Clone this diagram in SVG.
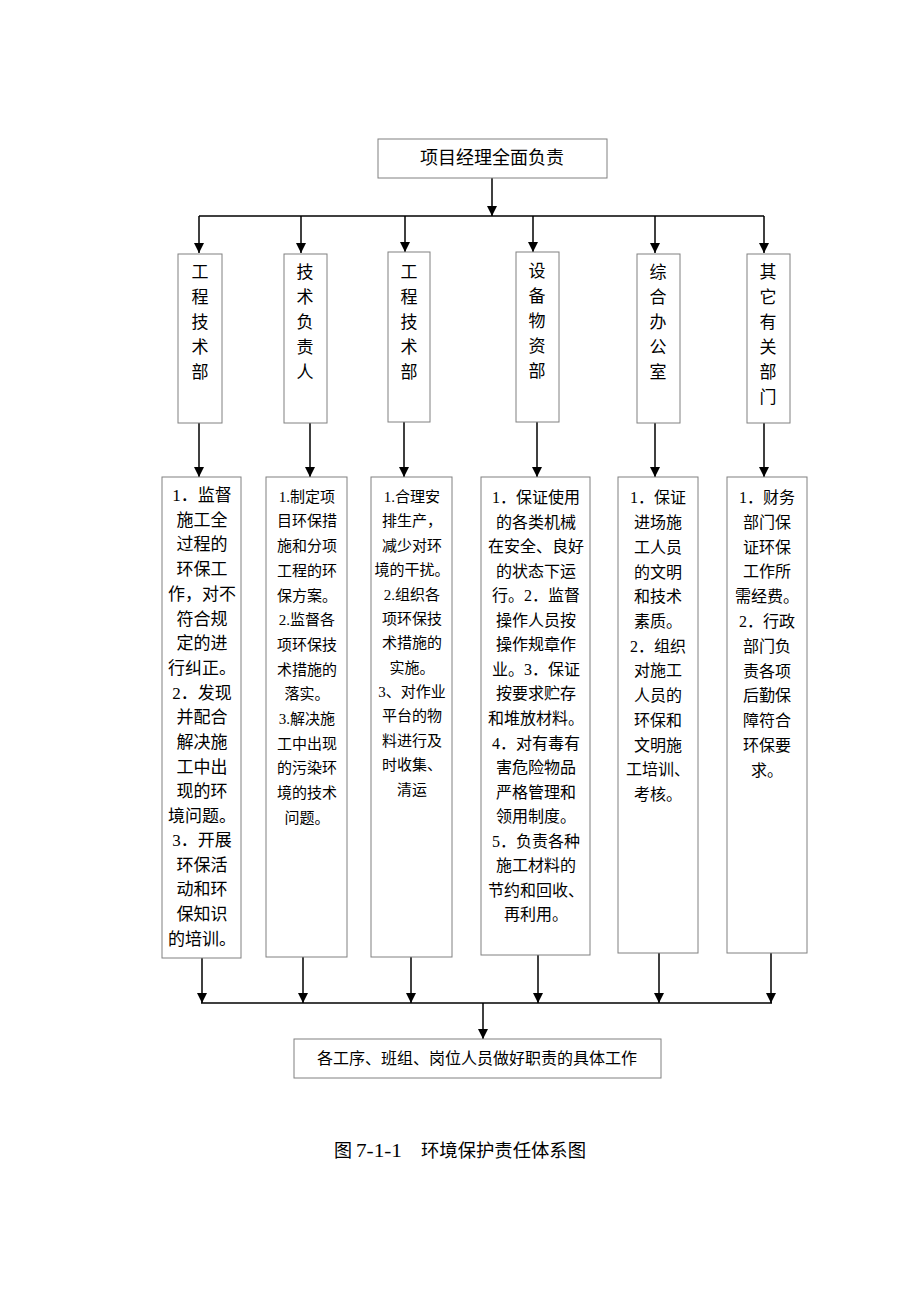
<svg xmlns="http://www.w3.org/2000/svg" width="920" height="1302" viewBox="0 0 920 1302">
<style>
.box{fill:#fff;stroke:#808080;stroke-width:1}
.ln{stroke:#000;stroke-width:1.5;fill:none}
.arr{stroke:#000;stroke-width:1.5;fill:none;marker-end:url(#ah)}
text{font-family:"Liberation Serif","Noto Sans CJK SC",serif;fill:#000;text-anchor:middle;dominant-baseline:central}
.t17{font-size:17px}
.t15{font-size:15px}
.t16{font-size:16px}
</style>
<defs>
<marker id="ah" markerUnits="userSpaceOnUse" markerWidth="10" markerHeight="10" viewBox="0 0 10 10" refX="10" refY="5" orient="auto">
<path d="M0,0 L10,5 L0,10 Z" fill="#000"/>
</marker>
</defs>
<rect width="920" height="1302" fill="#fff"/>

<g id="connectors">
<path class="arr" d="M492,178 V216"/>
<path class="ln" d="M199,216 H764"/>
<path class="arr" d="M199,216 V253"/>
<path class="arr" d="M301,216 V253"/>
<path class="arr" d="M405,216 V252"/>
<path class="arr" d="M533,216 V252"/>
<path class="arr" d="M655,216 V253"/>
<path class="arr" d="M764,216 V253"/>
<path class="arr" d="M199,423 V477"/>
<path class="arr" d="M310,423 V477"/>
<path class="arr" d="M404,422 V477"/>
<path class="arr" d="M537,422 V477"/>
<path class="arr" d="M655,423 V477"/>
<path class="arr" d="M764,423 V477"/>
<path class="arr" d="M202,958 V1003"/>
<path class="arr" d="M303,957 V1003"/>
<path class="arr" d="M411,957 V1003"/>
<path class="arr" d="M538,955 V1003"/>
<path class="arr" d="M659,953 V1003"/>
<path class="arr" d="M771,953 V1003"/>
<path class="ln" d="M201,1003 H772"/>
<path class="arr" d="M483,1003 V1039"/>
</g>

<g id="top">
<rect class="box" x="378" y="139" width="229" height="39"/>
<text x="492" y="158" style="font-size:18px">项目经理全面负责</text>
</g>

<g id="dept1">
<rect class="box" x="178" y="254" width="44" height="169"/>
<text class="t17" x="200" y="272">工</text><text class="t17" x="200" y="297">程</text><text class="t17" x="200" y="322">技</text><text class="t17" x="200" y="347">术</text><text class="t17" x="200" y="372">部</text>
</g>
<g id="dept2">
<rect class="box" x="284" y="254" width="43" height="169"/>
<text class="t17" x="305" y="272">技</text><text class="t17" x="305" y="297">术</text><text class="t17" x="305" y="322">负</text><text class="t17" x="305" y="347">责</text><text class="t17" x="305" y="372">人</text>
</g>
<g id="dept3">
<rect class="box" x="388" y="252" width="42" height="170"/>
<text class="t17" x="409" y="272">工</text><text class="t17" x="409" y="297">程</text><text class="t17" x="409" y="322">技</text><text class="t17" x="409" y="347">术</text><text class="t17" x="409" y="372">部</text>
</g>
<g id="dept4">
<rect class="box" x="516" y="252" width="43" height="170"/>
<text class="t17" x="537" y="271">设</text><text class="t17" x="537" y="296">备</text><text class="t17" x="537" y="321">物</text><text class="t17" x="537" y="346">资</text><text class="t17" x="537" y="371">部</text>
</g>
<g id="dept5">
<rect class="box" x="637" y="254" width="43" height="169"/>
<text class="t17" x="658" y="272">综</text><text class="t17" x="658" y="297">合</text><text class="t17" x="658" y="322">办</text><text class="t17" x="658" y="347">公</text><text class="t17" x="658" y="372">室</text>
</g>
<g id="dept6">
<rect class="box" x="747" y="254" width="43" height="169"/>
<text class="t17" x="768" y="272">其</text><text class="t17" x="768" y="297">它</text><text class="t17" x="768" y="322">有</text><text class="t17" x="768" y="347">关</text><text class="t17" x="768" y="372">部</text><text class="t17" x="768" y="397">门</text>
</g>

<g id="duty1" class="t17">
<rect class="box" x="162" y="477" width="79" height="481"/>
<text x="202" y="495">1．监督</text>
<text x="202" y="520">施工全</text>
<text x="202" y="544">过程的</text>
<text x="202" y="569">环保工</text>
<text x="202" y="594">作，对不</text>
<text x="202" y="619">符合规</text>
<text x="202" y="643">定的进</text>
<text x="202" y="668">行纠正。</text>
<text x="202" y="693">2．发现</text>
<text x="202" y="717">并配合</text>
<text x="202" y="742">解决施</text>
<text x="202" y="767">工中出</text>
<text x="202" y="791">现的环</text>
<text x="202" y="816">境问题。</text>
<text x="202" y="840">3．开展</text>
<text x="202" y="865">环保活</text>
<text x="202" y="889">动和环</text>
<text x="202" y="914">保知识</text>
<text x="202" y="939">的培训。</text>
</g>

<g id="duty2" class="t15">
<rect class="box" x="266" y="477" width="81" height="480"/>
<text x="307" y="497">1.制定项</text>
<text x="307" y="521">目环保措</text>
<text x="307" y="546">施和分项</text>
<text x="307" y="571">工程的环</text>
<text x="307" y="596">保方案。</text>
<text x="307" y="620">2.监督各</text>
<text x="307" y="645">项环保技</text>
<text x="307" y="670">术措施的</text>
<text x="307" y="694">落实。</text>
<text x="307" y="719">3.解决施</text>
<text x="307" y="744">工中出现</text>
<text x="307" y="768">的污染环</text>
<text x="307" y="793">境的技术</text>
<text x="307" y="818">问题。</text>
</g>

<g id="duty3" class="t15">
<rect class="box" x="371" y="477" width="81" height="480"/>
<text x="412" y="497">1.合理安</text>
<text x="412" y="521">排生产，</text>
<text x="412" y="546">减少对环</text>
<text x="412" y="570">境的干扰。</text>
<text x="412" y="595">2.组织各</text>
<text x="412" y="619">项环保技</text>
<text x="412" y="643">术措施的</text>
<text x="412" y="668">实施。</text>
<text x="412" y="692">3、对作业</text>
<text x="412" y="716">平台的物</text>
<text x="412" y="741">料进行及</text>
<text x="412" y="765">时收集、</text>
<text x="412" y="790">清运</text>
</g>

<g id="duty4" class="t16">
<rect class="box" x="481" y="477" width="109" height="478"/>
<text x="536" y="497">1．保证使用</text>
<text x="536" y="522">的各类机械</text>
<text x="536" y="546">在安全、良好</text>
<text x="536" y="571">的状态下运</text>
<text x="536" y="595">行。2．监督</text>
<text x="536" y="620">操作人员按</text>
<text x="536" y="644">操作规章作</text>
<text x="536" y="669">业。3．保证</text>
<text x="536" y="693">按要求贮存</text>
<text x="536" y="718">和堆放材料。</text>
<text x="536" y="743">4．对有毒有</text>
<text x="536" y="767">害危险物品</text>
<text x="536" y="792">严格管理和</text>
<text x="536" y="816">领用制度。</text>
<text x="536" y="841">5．负责各种</text>
<text x="536" y="865">施工材料的</text>
<text x="536" y="890">节约和回收、</text>
<text x="536" y="914">再利用。</text>
</g>

<g id="duty5" class="t16">
<rect class="box" x="618" y="477" width="80" height="476"/>
<text x="658" y="497">1．保证</text>
<text x="658" y="522">进场施</text>
<text x="658" y="547">工人员</text>
<text x="658" y="572">的文明</text>
<text x="658" y="596">和技术</text>
<text x="658" y="621">素质。</text>
<text x="658" y="646">2．组织</text>
<text x="658" y="670">对施工</text>
<text x="658" y="695">人员的</text>
<text x="658" y="720">环保和</text>
<text x="658" y="745">文明施</text>
<text x="658" y="769">工培训、</text>
<text x="658" y="794">考核。</text>
</g>

<g id="duty6" class="t16">
<rect class="box" x="727" y="477" width="80" height="476"/>
<text x="767" y="497">1．财务</text>
<text x="767" y="522">部门保</text>
<text x="767" y="547">证环保</text>
<text x="767" y="571">工作所</text>
<text x="767" y="596">需经费。</text>
<text x="767" y="621">2．行政</text>
<text x="767" y="646">部门负</text>
<text x="767" y="671">责各项</text>
<text x="767" y="695">后勤保</text>
<text x="767" y="720">障符合</text>
<text x="767" y="745">环保要</text>
<text x="767" y="770">求。</text>
</g>

<g id="bottom">
<rect class="box" x="294" y="1039" width="367" height="39"/>
<text class="t16" x="477" y="1058">各工序、班组、岗位人员做好职责的具体工作</text>
</g>

<g id="caption">
<text x="334" y="1151" style="font-size:18px;text-anchor:start">图</text>
<text x="356" y="1151" style="font-size:18px;text-anchor:start" textLength="46" lengthAdjust="spacingAndGlyphs">7-1-1</text>
<text x="421" y="1151" style="font-size:18px;text-anchor:start" textLength="165" lengthAdjust="spacingAndGlyphs">环境保护责任体系图</text>
</g>
</svg>
